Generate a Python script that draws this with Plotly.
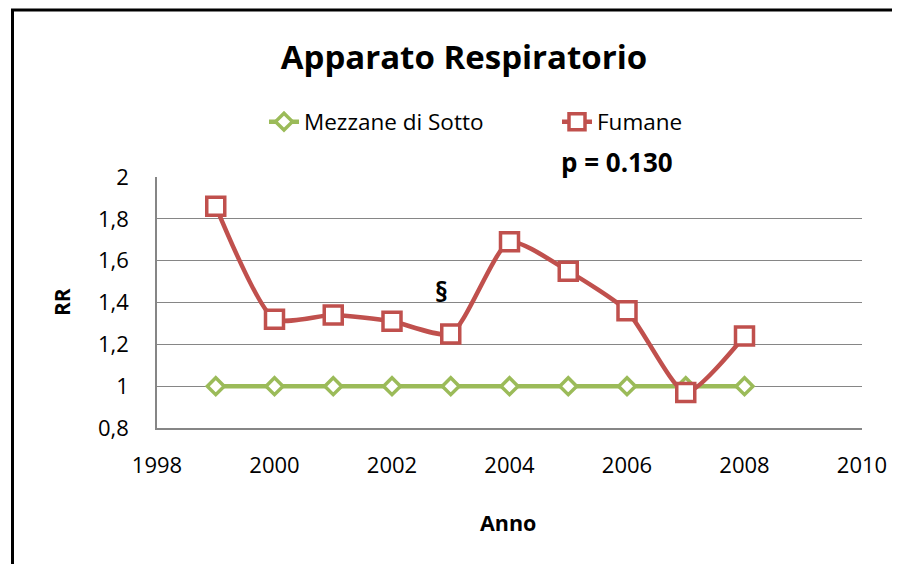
import plotly.graph_objects as go

years = [1999, 2000, 2001, 2002, 2003, 2004, 2005, 2006, 2007, 2008]
mezzane = [1, 1, 1, 1, 1, 1, 1, 1, 1, 1]
fumane = [1.86, 1.32, 1.34, 1.31, 1.25, 1.69, 1.55, 1.36, 0.97, 1.24]
yticks = [0.8, 1.0, 1.2, 1.4, 1.6, 1.8, 2.0]
ytick_labels = ["0,8", "1", "1,2", "1,4", "1,6", "1,8", "2"]
xticks = [1998, 2000, 2002, 2004, 2006, 2008, 2010]

FONT = "'Open Sans', Lato, sans-serif"
GREEN = "#9BBB59"
RED = "#C0504D"

# plot area in figure pixels (page has 8px body margin)
L, R, T, B = 149, 46, 169, 144
W, H = 900, 564
PW = W - L - R
PH = H - T - B


def px(xf):
    return (xf - L) / PW


def py(yf):
    return (H - B - yf) / PH


fig = go.Figure()
fig.add_trace(go.Scatter(
    x=years, y=mezzane, name="Mezzane di Sotto", mode="lines+markers",
    line=dict(color=GREEN, width=4.5, shape="spline"),
    marker=dict(symbol="diamond", size=13, color="white", line=dict(color=GREEN, width=3.5)),
))
fig.add_trace(go.Scatter(
    x=years, y=fumane, name="Fumane", mode="lines+markers",
    line=dict(color=RED, width=4.5, shape="spline", smoothing=0.6),
    marker=dict(symbol="square", size=18, color="white", line=dict(color=RED, width=3.5)),
))

fig.update_layout(
    width=W, height=H,
    paper_bgcolor="white", plot_bgcolor="white",
    margin=dict(l=L, r=R, t=T, b=B),
    font=dict(family=FONT, size=21, color="black"),
    title=dict(text="<b>Apparato Respiratorio</b>", x=456 / W, xanchor="center",
               y=1 - 49 / H, yanchor="middle", font=dict(size=33, family=FONT)),
    legend=dict(orientation="h", x=px(256), xanchor="left", y=py(114), yanchor="middle",
                font=dict(size=22.5, family=FONT), bgcolor="rgba(0,0,0,0)",
                entrywidth=248, entrywidthmode="pixels", tracegroupgap=0),
    xaxis=dict(range=[1998, 2010], tickvals=xticks, showgrid=False, zeroline=False,
               showline=True, linecolor="#868686", linewidth=1.5,
               ticks="outside", ticklen=17, tickcolor="rgba(0,0,0,0)",
               tickfont=dict(size=22)),
    yaxis=dict(range=[0.8, 2.0], tickvals=yticks, ticktext=ytick_labels,
               showgrid=True, gridcolor="#868686", gridwidth=1.2, zeroline=False,
               showline=True, linecolor="#868686", linewidth=1.5,
               ticks="outside", ticklen=22, tickcolor="rgba(0,0,0,0)",
               tickfont=dict(size=22)),
    annotations=[
        dict(text="<b>p = 0.130</b>", xref="paper", yref="paper", x=px(609), y=py(154),
             xanchor="center", yanchor="middle", showarrow=False, font=dict(size=26, family=FONT)),
        dict(text="<b>§</b>", x=2002.85, y=1.45, xanchor="center", yanchor="middle",
             showarrow=False, font=dict(size=26, family=FONT)),
        dict(text="<b>RR</b>", xref="paper", yref="paper", x=px(54), y=py(294), textangle=-90,
             xanchor="center", yanchor="middle", showarrow=False, font=dict(size=21, family=FONT)),
        dict(text="<b>Anno</b>", xref="paper", yref="paper", x=px(500), y=py(514),
             xanchor="center", yanchor="middle", showarrow=False, font=dict(size=21.5, family=FONT)),
    ],
    shapes=[
        dict(type="rect", xref="paper", yref="paper",
             x0=px(4.5), x1=px(960), y0=py(640), y1=py(2),
             line=dict(color="black", width=3), fillcolor="rgba(0,0,0,0)", layer="below"),
    ],
)

fig.write_html("out.html")
